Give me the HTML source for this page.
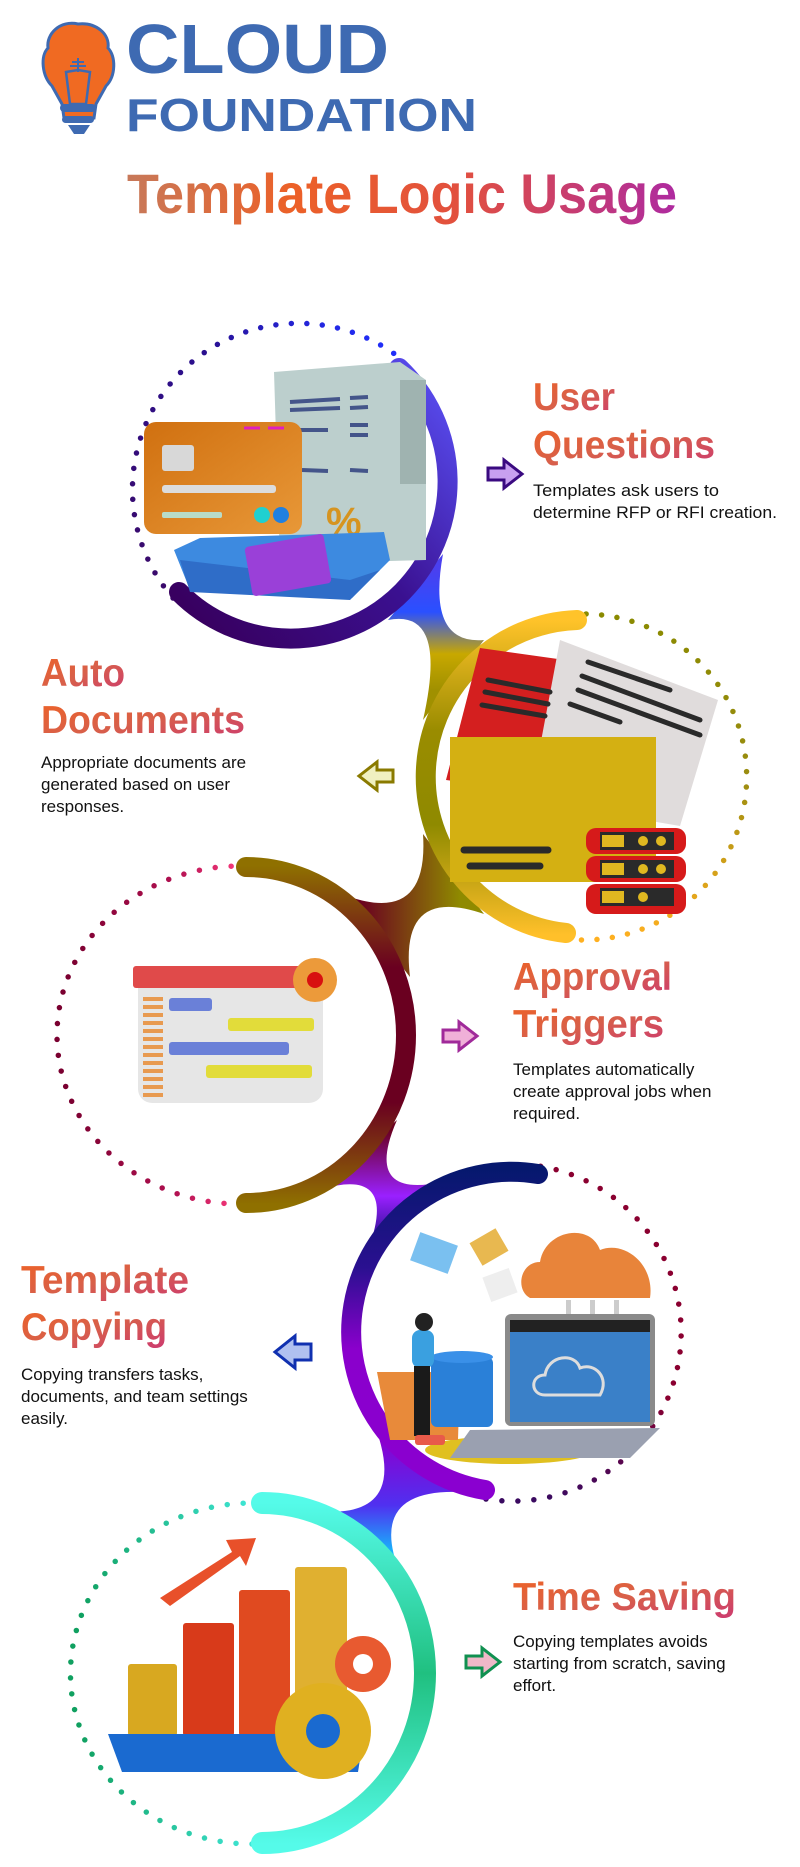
<!DOCTYPE html>
<html><head><meta charset="utf-8"><style>
html,body{margin:0;padding:0;background:#fff;}
svg{display:block;}
.b{font-family:"Liberation Sans",Arial,sans-serif;font-size:17px;fill:#111;}
.h{font-family:"Liberation Sans",Arial,sans-serif;font-weight:bold;}
</style></head><body>
<svg width="800" height="1867" viewBox="0 0 800 1867" xmlns="http://www.w3.org/2000/svg">
<defs>
<linearGradient id="tg" x1="127" y1="0" x2="677" y2="0" gradientUnits="userSpaceOnUse"><stop offset="0" stop-color="#c7795a"/><stop offset="0.3" stop-color="#ec6128"/><stop offset="0.6" stop-color="#e2503e"/><stop offset="1" stop-color="#ae2aa0"/></linearGradient>
<linearGradient id="hg" x1="0" y1="0" x2="1" y2="1"><stop offset="0" stop-color="#ee6226"/><stop offset="0.5" stop-color="#d8604a"/><stop offset="1" stop-color="#cc3a70"/></linearGradient>
<linearGradient id="a1" x1="180" y1="600" x2="450" y2="380" gradientUnits="userSpaceOnUse"><stop offset="0" stop-color="#380060"/><stop offset="0.5" stop-color="#3a1090"/><stop offset="1" stop-color="#5a50f5"/></linearGradient>
<linearGradient id="d1" x1="170" y1="600" x2="410" y2="360" gradientUnits="userSpaceOnUse"><stop offset="0" stop-color="#3a0a6b"/><stop offset="0.6" stop-color="#2a1090"/><stop offset="1" stop-color="#2030ff"/></linearGradient>
<linearGradient id="a2" x1="0" y1="620" x2="0" y2="935" gradientUnits="userSpaceOnUse"><stop offset="0" stop-color="#ffc32a"/><stop offset="0.35" stop-color="#9a8c00"/><stop offset="0.65" stop-color="#8f8a00"/><stop offset="1" stop-color="#ffc02a"/></linearGradient>
<linearGradient id="d2" x1="0" y1="614" x2="0" y2="940" gradientUnits="userSpaceOnUse"><stop offset="0" stop-color="#8a8a00"/><stop offset="0.5" stop-color="#9a8c10"/><stop offset="1" stop-color="#ffb020"/></linearGradient>
<linearGradient id="a3" x1="0" y1="866" x2="0" y2="1204" gradientUnits="userSpaceOnUse"><stop offset="0" stop-color="#8f7000"/><stop offset="0.3" stop-color="#6a0020"/><stop offset="0.7" stop-color="#6a0020"/><stop offset="1" stop-color="#8f7000"/></linearGradient>
<linearGradient id="d3" x1="67" y1="0" x2="245" y2="0" gradientUnits="userSpaceOnUse"><stop offset="0" stop-color="#7a0030"/><stop offset="0.6" stop-color="#b01050"/><stop offset="1" stop-color="#ff3d80"/></linearGradient>
<linearGradient id="a4" x1="0" y1="1170" x2="0" y2="1495" gradientUnits="userSpaceOnUse"><stop offset="0" stop-color="#06186e"/><stop offset="0.3" stop-color="#2a1090"/><stop offset="0.55" stop-color="#8a00cc"/><stop offset="1" stop-color="#8a00d0"/></linearGradient>
<linearGradient id="d4" x1="0" y1="1165" x2="0" y2="1500" gradientUnits="userSpaceOnUse"><stop offset="0" stop-color="#8a0030"/><stop offset="0.7" stop-color="#8a0030"/><stop offset="1" stop-color="#3a0a60"/></linearGradient>
<linearGradient id="a5" x1="0" y1="1503" x2="0" y2="1844" gradientUnits="userSpaceOnUse"><stop offset="0" stop-color="#55fbe9"/><stop offset="0.5" stop-color="#20c080"/><stop offset="1" stop-color="#55fbe9"/></linearGradient>
<linearGradient id="d5" x1="80" y1="0" x2="255" y2="0" gradientUnits="userSpaceOnUse"><stop offset="0" stop-color="#10a060"/><stop offset="1" stop-color="#40e8d8"/></linearGradient>
<linearGradient id="j1" x1="0" y1="570" x2="0" y2="690" gradientUnits="userSpaceOnUse"><stop offset="0" stop-color="#4a40f0"/><stop offset="0.35" stop-color="#2a50ff"/><stop offset="0.7" stop-color="#c8a800"/><stop offset="1" stop-color="#a09000"/></linearGradient>
<linearGradient id="j2" x1="460" y1="0" x2="360" y2="0" gradientUnits="userSpaceOnUse"><stop offset="0" stop-color="#8f8a00"/><stop offset="1" stop-color="#6a0020"/></linearGradient>
<linearGradient id="j3" x1="0" y1="1130" x2="0" y2="1240" gradientUnits="userSpaceOnUse"><stop offset="0" stop-color="#6a0020"/><stop offset="0.6" stop-color="#9a20ff"/><stop offset="1" stop-color="#2a1090"/></linearGradient>
<linearGradient id="j4" x1="0" y1="1440" x2="0" y2="1570" gradientUnits="userSpaceOnUse"><stop offset="0" stop-color="#8a00d0"/><stop offset="0.5" stop-color="#5030f0"/><stop offset="1" stop-color="#00e8ff"/></linearGradient>
<linearGradient id="card" x1="0" y1="0" x2="1" y2="1"><stop offset="0" stop-color="#d07010"/><stop offset="1" stop-color="#e89838"/></linearGradient>
</defs>

<!-- Logo -->
<path d="M78 24 C60 20 46 34 48 48 C40 56 42 76 52 86 L62 104 L64 118 L94 118 L96 104 L106 86 C116 76 116 56 108 48 C110 34 96 22 78 24 Z" fill="#f06a22" stroke="#3e6ab2" stroke-width="3"/>
<path d="M66 72 L78 70 L90 72 L86 104 L70 104 Z" fill="none" stroke="#3e6ab2" stroke-width="2.5"/>
<path d="M78 58 L78 72 M72 62 L84 62 M70 66 L86 66" stroke="#3e6ab2" stroke-width="2"/>
<rect x="60" y="104" width="36" height="8" rx="4" fill="#3e6ab2"/>
<rect x="62" y="116" width="32" height="7" rx="3.5" fill="#3e6ab2"/>
<path d="M68 125 L90 125 L84 134 L74 134 Z" fill="#3e6ab2"/>
<text x="126" y="73" class="h" font-size="70" fill="#3e6ab2" textLength="263" lengthAdjust="spacingAndGlyphs">CLOUD</text>
<text x="126" y="131" class="h" font-size="46" fill="#3e6ab2" textLength="351" lengthAdjust="spacingAndGlyphs">FOUNDATION</text>

<!-- Title -->
<text x="127" y="213" class="h" font-size="56" fill="url(#tg)" textLength="550" lengthAdjust="spacingAndGlyphs">Template Logic Usage</text>

<!-- Junctions (hourglass necks) -->
<path d="M443 554 Q426.5 645 484 640 L423 720 Q448.5 608 388 620 Z" fill="url(#j1)"/>
<path d="M423 834 Q429 925 347 896 L410 977 Q399 884.5 484 914 Z" fill="url(#j2)"/>
<path d="M397 1120 Q362.5 1199 442 1182 L368 1250 Q399 1166.5 322 1189 Z" fill="url(#j3)"/>
<path d="M376 1429 Q408.5 1520 315 1511 L401 1576 Q365 1488 461 1492 Z" fill="url(#j4)"/>

<!-- Circle 1 -->
<path d="M173 598 A166 166 0 0 1 405 362" fill="none" stroke="url(#d1)" stroke-width="5.5" stroke-linecap="round" stroke-dasharray="0 15.5"/>
<path d="M399 368 A157 157 0 1 1 179 592" fill="none" stroke="url(#a1)" stroke-width="20" stroke-linecap="round"/>
<g>
<path d="M274 372 L400 362 L426 380 L426 560 L280 564 Z" fill="#bccfcd"/>
<rect x="400" y="380" width="26" height="104" fill="#9fb3b0"/>
<path d="M290 402 L340 399 M290 410 L340 408 M350 398 L368 397 M350 408 L368 407 M300 430 L328 430 M350 425 L368 425 M350 435 L368 435 M302 470 L328 471 M350 470 L368 471" stroke="#44558a" stroke-width="4"/>
<text x="326" y="535" class="h" font-size="40" fill="#d69420">%</text>
<rect x="144" y="422" width="158" height="112" rx="12" fill="url(#card)"/>
<rect x="162" y="445" width="32" height="26" rx="3" fill="#d8d8d8"/>
<rect x="162" y="485" width="114" height="8" rx="3" fill="#dcdcdc"/>
<rect x="162" y="512" width="60" height="6" rx="2" fill="#b8dcc8"/>
<circle cx="262" cy="515" r="8" fill="#20d0d0"/><circle cx="281" cy="515" r="8" fill="#2080e0"/>
<path d="M244 428 L260 428 M268 428 L284 428" stroke="#e020c0" stroke-width="3"/>
<path d="M174 550 L200 538 L384 532 L390 560 L352 598 L190 590 Z" fill="#3d8ae0"/>
<path d="M180 560 L350 580 L380 570 L350 600 L190 592 Z" fill="#2f6dc8"/>
<rect x="248" y="540" width="80" height="50" rx="4" fill="#9a40d8" transform="rotate(-10 288 565)"/>
</g>

<!-- Circle 2 -->
<path d="M566 939 A163 163 0 1 0 580 614" fill="none" stroke="url(#d2)" stroke-width="5.5" stroke-linecap="round" stroke-dasharray="0 15.5"/>
<path d="M577 620 A157 157 0 0 0 566 933" fill="none" stroke="url(#a2)" stroke-width="20" stroke-linecap="round"/>
<g>
<path d="M480 648 L565 660 L560 795 L446 780 Z" fill="#d41f1f"/>
<path d="M560 640 L718 700 L680 826 L530 800 Z" fill="#e0dcdc"/>
<path d="M588 662 L670 690 M582 676 L700 720 M578 690 L700 735 M570 704 L620 722" stroke="#2a2a2a" stroke-width="5" stroke-linecap="round"/>
<path d="M488 680 L550 692 M485 692 L548 704 M482 705 L545 716" stroke="#2a2a2a" stroke-width="5" stroke-linecap="round"/>
<rect x="450" y="737" width="206" height="145" fill="#d4b012"/>
<path d="M464 850 L548 850 M470 866 L540 866" stroke="#2a2a2a" stroke-width="7" stroke-linecap="round"/>
<g fill="#d61a1a"><rect x="586" y="828" width="100" height="26" rx="10"/><rect x="586" y="856" width="100" height="26" rx="10"/><rect x="586" y="884" width="100" height="30" rx="10"/></g>
<g fill="#2a2a2a"><rect x="600" y="832" width="74" height="18"/><rect x="600" y="860" width="74" height="18"/><rect x="600" y="888" width="74" height="18"/></g>
<g fill="#e0b820"><rect x="602" y="835" width="22" height="12"/><rect x="602" y="863" width="22" height="12"/><rect x="602" y="891" width="22" height="12"/><circle cx="643" cy="841" r="5"/><circle cx="661" cy="841" r="5"/><circle cx="643" cy="869" r="5"/><circle cx="661" cy="869" r="5"/><circle cx="643" cy="897" r="5"/></g>
</g>

<!-- Circle 3 -->
<path d="M240 1204 A183 169 0 0 1 240 866" fill="none" stroke="url(#d3)" stroke-width="5.5" stroke-linecap="round" stroke-dasharray="0 16"/>
<path d="M246 867 A160 168 0 0 1 246 1203" fill="none" stroke="url(#a3)" stroke-width="20" stroke-linecap="round"/>
<g>
<rect x="138" y="975" width="185" height="128" rx="14" fill="#e6e6e6"/>
<rect x="133" y="966" width="180" height="22" rx="3" fill="#e04a4a"/>
<circle cx="315" cy="980" r="22" fill="#ec9a3a"/><circle cx="315" cy="980" r="8" fill="#d81010"/>
<g fill="#e89a50"><rect x="143" y="997" width="20" height="4"/><rect x="143" y="1005" width="20" height="4"/><rect x="143" y="1013" width="20" height="4"/><rect x="143" y="1021" width="20" height="4"/><rect x="143" y="1029" width="20" height="4"/><rect x="143" y="1037" width="20" height="4"/><rect x="143" y="1045" width="20" height="4"/><rect x="143" y="1053" width="20" height="4"/><rect x="143" y="1061" width="20" height="4"/><rect x="143" y="1069" width="20" height="4"/><rect x="143" y="1077" width="20" height="4"/><rect x="143" y="1085" width="20" height="4"/><rect x="143" y="1093" width="20" height="4"/></g>
<rect x="169" y="998" width="43" height="13" rx="3" fill="#6a80d8"/>
<rect x="228" y="1018" width="86" height="13" rx="3" fill="#e2dc3a"/>
<rect x="169" y="1042" width="120" height="13" rx="3" fill="#6a80d8"/>
<rect x="206" y="1065" width="106" height="13" rx="3" fill="#e2dc3a"/>
</g>

<!-- Circle 4 -->
<path d="M486 1499 A168 168 0 1 0 539 1166" fill="none" stroke="url(#d4)" stroke-width="5.5" stroke-linecap="round" stroke-dasharray="0 16"/>
<path d="M538 1174 A158 158 0 1 0 485 1490" fill="none" stroke="url(#a4)" stroke-width="20" stroke-linecap="round"/>
<g>
<ellipse cx="510" cy="1450" rx="85" ry="14" fill="#e0c020"/>
<path d="M377 1372 L460 1372 L458 1440 L390 1440 Z" fill="#e88a3a"/>
<rect x="431" y="1357" width="62" height="70" rx="6" fill="#2a80d8"/>
<ellipse cx="462" cy="1357" rx="31" ry="6" fill="#3a90e8"/>
<path d="M530 1298 C515 1290 520 1262 540 1262 C545 1230 590 1222 600 1250 C625 1240 655 1265 650 1298 Z" fill="#e8843a"/>
<rect x="566" y="1300" width="5" height="16" fill="#ccc"/><rect x="590" y="1300" width="5" height="16" fill="#ccc"/><rect x="614" y="1300" width="5" height="16" fill="#ccc"/>
<rect x="505" y="1314" width="150" height="112" rx="6" fill="#8a8a8a"/>
<rect x="510" y="1320" width="140" height="12" fill="#222"/>
<rect x="510" y="1332" width="140" height="90" fill="#3a80c8"/>
<path d="M545 1395 C530 1395 530 1375 545 1375 C548 1355 575 1352 580 1368 C595 1362 610 1378 600 1395 Z" fill="none" stroke="#ddd" stroke-width="3"/>
<path d="M470 1430 L660 1428 L630 1458 L450 1458 Z" fill="#9aa0b0"/>
<rect x="412" y="1330" width="22" height="38" rx="8" fill="#3aa0e0"/>
<rect x="414" y="1366" width="16" height="70" fill="#1a1a1a"/>
<circle cx="424" cy="1322" r="9" fill="#222"/>
<rect x="415" y="1435" width="30" height="10" rx="3" fill="#e85a4a"/>
<rect x="414" y="1238" width="40" height="30" fill="#7ac0f0" transform="rotate(20 434 1253)"/>
<rect x="474" y="1234" width="30" height="26" fill="#e8b850" transform="rotate(-30 489 1247)"/>
<rect x="486" y="1272" width="28" height="26" fill="#eee" transform="rotate(-20 500 1285)"/>
</g>

<!-- Circle 5 -->
<path d="M252 1844 A181 170 0 0 1 252 1503" fill="none" stroke="url(#d5)" stroke-width="5.5" stroke-linecap="round" stroke-dasharray="0 16"/>
<path d="M262 1503 A163 170 0 0 1 262 1843" fill="none" stroke="url(#a5)" stroke-width="22" stroke-linecap="round"/>
<g>
<rect x="128" y="1664" width="49" height="72" rx="3" fill="#d8a820"/>
<rect x="183" y="1623" width="51" height="113" rx="3" fill="#d83a1a"/>
<rect x="239" y="1590" width="51" height="146" rx="3" fill="#e04a20"/>
<rect x="295" y="1567" width="52" height="169" rx="3" fill="#e0b030"/>
<path d="M108 1734 L364 1734 L358 1772 L122 1772 Z" fill="#1a6ad0"/>
<path d="M160 1598 L232 1552 L226 1540 L256 1538 L246 1566 L240 1556 L170 1606 Z" fill="#e8502a"/>
<circle cx="363" cy="1664" r="28" fill="#e85a30"/><circle cx="363" cy="1664" r="10" fill="#fff"/>
<circle cx="323" cy="1731" r="48" fill="#e0b020"/><circle cx="323" cy="1731" r="17" fill="#1a6ad0"/>
</g>

<!-- Arrows -->
<path d="M488 468 h16 v-8 l18 14 l-18 14 v-8 h-16 z" fill="#c8a0f0" stroke="#3a0a80" stroke-width="3"/>
<path d="M393 770 h-16 v-8 l-18 14 l18 14 v-8 h16 z" fill="#f0f0c0" stroke="#8a7a00" stroke-width="3"/>
<path d="M443 1030 h16 v-8 l18 14 l-18 14 v-8 h-16 z" fill="#f0b0d8" stroke="#a02a9a" stroke-width="3"/>
<path d="M311 1344 h-16 v-8 l-20 16 l20 16 v-8 h16 z" fill="#b0c0f0" stroke="#1030b0" stroke-width="3"/>
<path d="M466 1656 h16 v-8 l18 14 l-18 14 v-8 h-16 z" fill="#f0b8c8" stroke="#109050" stroke-width="3"/>

<!-- Headings -->
<text x="533" y="410" class="h" font-size="39" fill="url(#hg)" textLength="82" lengthAdjust="spacingAndGlyphs">User</text>
<text x="533" y="458" class="h" font-size="39" fill="url(#hg)" textLength="182" lengthAdjust="spacingAndGlyphs">Questions</text>
<text x="533" y="496" class="b" textLength="186" lengthAdjust="spacingAndGlyphs">Templates ask users to</text>
<text x="533" y="518" class="b" textLength="244" lengthAdjust="spacingAndGlyphs">determine RFP or RFI creation.</text>

<text x="41" y="686" class="h" font-size="39" fill="url(#hg)" textLength="84" lengthAdjust="spacingAndGlyphs">Auto</text>
<text x="41" y="733" class="h" font-size="39" fill="url(#hg)" textLength="204" lengthAdjust="spacingAndGlyphs">Documents</text>
<text x="41" y="768" class="b">Appropriate documents are</text>
<text x="41" y="790" class="b">generated based on user</text>
<text x="41" y="812" class="b">responses.</text>

<text x="513" y="990" class="h" font-size="39" fill="url(#hg)" textLength="159" lengthAdjust="spacingAndGlyphs">Approval</text>
<text x="513" y="1037" class="h" font-size="39" fill="url(#hg)" textLength="151" lengthAdjust="spacingAndGlyphs">Triggers</text>
<text x="513" y="1075" class="b">Templates automatically</text>
<text x="513" y="1097" class="b">create approval jobs when</text>
<text x="513" y="1119" class="b">required.</text>

<text x="21" y="1293" class="h" font-size="39" fill="url(#hg)" textLength="168" lengthAdjust="spacingAndGlyphs">Template</text>
<text x="21" y="1340" class="h" font-size="39" fill="url(#hg)" textLength="146" lengthAdjust="spacingAndGlyphs">Copying</text>
<text x="21" y="1380" class="b">Copying transfers tasks,</text>
<text x="21" y="1402" class="b">documents, and team settings</text>
<text x="21" y="1424" class="b">easily.</text>

<text x="513" y="1610" class="h" font-size="39" fill="url(#hg)" textLength="223" lengthAdjust="spacingAndGlyphs">Time Saving</text>
<text x="513" y="1647" class="b">Copying templates avoids</text>
<text x="513" y="1669" class="b">starting from scratch, saving</text>
<text x="513" y="1691" class="b">effort.</text>
</svg>
</body></html>
